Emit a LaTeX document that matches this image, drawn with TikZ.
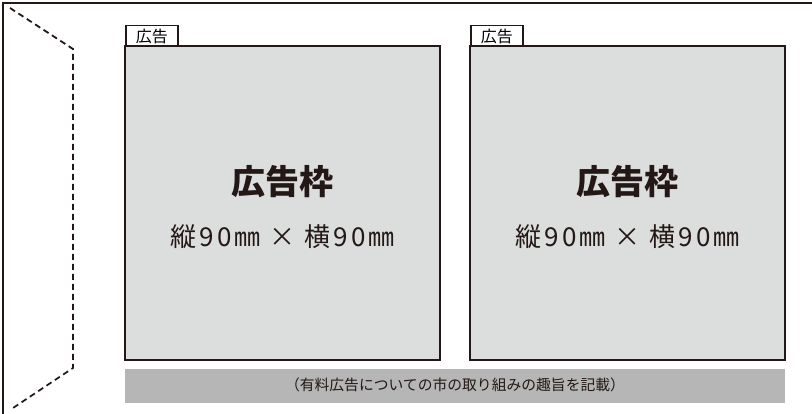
\documentclass[tikz,border=0pt]{standalone}
\usepackage{fontspec}
\newfontfamily\cjk{Noto Sans CJK JP}
\definecolor{ink}{HTML}{231815}
\definecolor{boxfill}{HTML}{DCDDDD}
\definecolor{barfill}{HTML}{B5B6B5}
\begin{document}
\begin{tikzpicture}[x=1pt,y=-1pt,
  adbox/.style={draw=ink,line width=2pt,fill=boxfill},
  tabbox/.style={draw=ink,line width=1.5pt,fill=white,inner sep=0pt,minimum width=52pt,minimum height=21pt,anchor=north west,font=\cjk\fontsize{16}{16}\selectfont},
  title/.style={font=\cjk\bfseries\fontsize{34}{34}\selectfont,text=ink},
  sub/.style={font=\cjk\addfontfeature{LetterSpace=12}\fontsize{26}{26}\selectfont,text=ink},
  bartext/.style={font=\cjk\fontsize{14.8}{14.8}\selectfont,text=ink}]
\useasboundingbox (0,0) rectangle (812,414);
% outer frame
\draw[ink,line width=1.5pt] (3,414) -- (3,3) -- (812,3);
% dashed fold
\coordinate (d1) at (10,8);
\coordinate (d2) at (73,49);
\coordinate (d3) at (73,368);
\coordinate (d4) at (10,410);
\draw[ink,line width=1.8pt,dash pattern=on 6pt off 4pt] (d1) -- (d2) -- (d3) -- (d4);
% boxes
\node[tabbox] (t1) at (125,25) {広告};
\node[tabbox] (t2) at (470,25) {広告};
\draw[adbox] (125,46) rectangle (440,360);
\draw[adbox] (470,46) rectangle (785,360);
\node[title] (h1) at (282.5,182) {広告枠};
\node[title] (h2) at (627.5,182) {広告枠};
\node[sub] (s1) at (282.5,237) {縦90㎜ × 横90㎜};
\node[sub] (s2) at (627.5,237) {縦90㎜ × 横90㎜};
% bar
\fill[barfill] (125,369) rectangle (785,403);
\node[bartext] (b) at (455,385) {（有料広告についての市の取り組みの趣旨を記載）};
\end{tikzpicture}
\end{document}
